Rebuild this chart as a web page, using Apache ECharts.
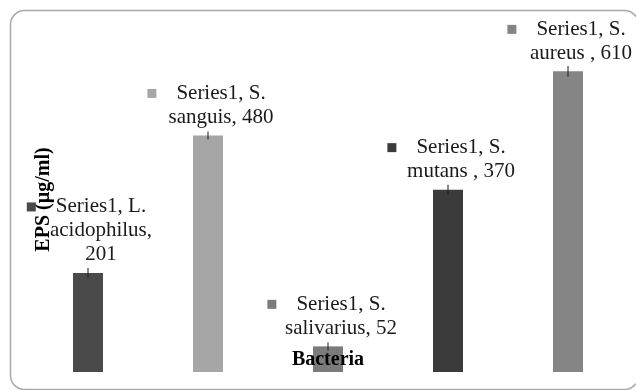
<!DOCTYPE html>
<html>
<head>
<meta charset="utf-8">
<script src="https://cdn.jsdelivr.net/npm/echarts@6/dist/echarts.min.js"></script>
<style>
  html, body { margin: 0; padding: 0; background: #fff; }
  #chart { width: 636px; height: 390px; }
</style>
</head>
<body>
<div id="chart"></div>
<script>
// bacteria on the x axis, EPS (µg/ml) on the y axis
const categories = ['L. acidophilus', 'S. sanguis', 'S. salivarius', 'S. mutans ', 'S. aureus '];
const epsValues = [201, 480, 52, 370, 610];
const errValues = [10, 8, 8, 10, 11];
const barColors = ['#4a4a4a', '#a6a6a6', '#7b7b7b', '#3b3b3b', '#858585'];
// how Excel wrapped each data label
const labelTemplates = [
  'Series1, L.\nacidophilus,\n{v}',
  'Series1, S.\nsanguis, {v}',
  'Series1, S.\nsalivarius, {v}',
  'Series1, S.\nmutans , {v}',
  'Series1, S.\naureus , {v}'
];

const serif = '"Liberation Serif", "Times New Roman", serif';

let myChart = echarts.init(document.getElementById('chart'));

// rich styles: legend key square per bar, plus spacers so the first line stays centred
const rich = {
  g: { width: 20, height: 9 },
  r: { width: 29, height: 9 }
};
barColors.forEach((c, i) => {
  rich['k' + i] = { width: 9, height: 9, backgroundColor: c };
});

myChart.setOption({
  animation: false,
  graphic: [{
    type: 'rect',
    shape: { x: 10.5, y: 10.5, width: 628, height: 379, r: 14 },
    style: { fill: 'none', stroke: '#a8a8a8', lineWidth: 1.5 },
    z: -1
  }],
  grid: {
    left: 28,
    right: 8,
    top: 27,
    bottom: 18
  },
  xAxis: {
    type: 'category',
    data: categories,
    z: 10,
    name: 'Bacteria',
    nameLocation: 'middle',
    nameGap: -22,
    nameTextStyle: { fontFamily: serif, fontWeight: 'bold', fontSize: 20, color: '#000' },
    axisLine: { show: false },
    axisTick: { show: false },
    axisLabel: { show: false }
  },
  yAxis: {
    type: 'value',
    min: 0,
    max: 700,
    name: 'EPS (µg/ml)',
    nameLocation: 'middle',
    nameRotate: 90,
    nameGap: -26,
    nameTextStyle: { fontFamily: serif, fontWeight: 'bold', fontSize: 20, color: '#000' },
    axisLine: { show: false },
    axisTick: { show: false },
    axisLabel: { show: false },
    splitLine: { show: false }
  },
  series: [
    {
      name: 'Series1',
      type: 'bar',
      barWidth: 30,
      data: epsValues.map((v, i) => ({ value: v, itemStyle: { color: barColors[i] } })),
      label: {
        show: true,
        position: 'top',
        distance: 6,
        offset: [13, 0],
        fontFamily: serif,
        fontSize: 21,
        lineHeight: 24,
        color: '#1a1a1a',
        align: 'center',
        rich: rich,
        formatter: p => {
          const lines = labelTemplates[p.dataIndex].replace('{v}', p.value).split('\n');
          lines[0] = '{k' + p.dataIndex + '| }{g| }' + lines[0] + '{r| }';
          return lines.join('\n');
        }
      }
    },
    {
      name: 'err',
      type: 'custom',
      z: 5,
      data: epsValues.map((v, i) => [i, v, errValues[i]]),
      renderItem: (params, api) => {
        const x = api.value(0);
        const v = api.value(1);
        const e = api.value(2);
        const hi = api.coord([x, v + e]);
        const lo = api.coord([x, v - e]);
        return {
          type: 'line',
          shape: { x1: hi[0], y1: hi[1], x2: lo[0], y2: lo[1] },
          style: { stroke: '#1a1a1a', lineWidth: 1 }
        };
      }
    }
  ]
});
</script>
</body>
</html>
